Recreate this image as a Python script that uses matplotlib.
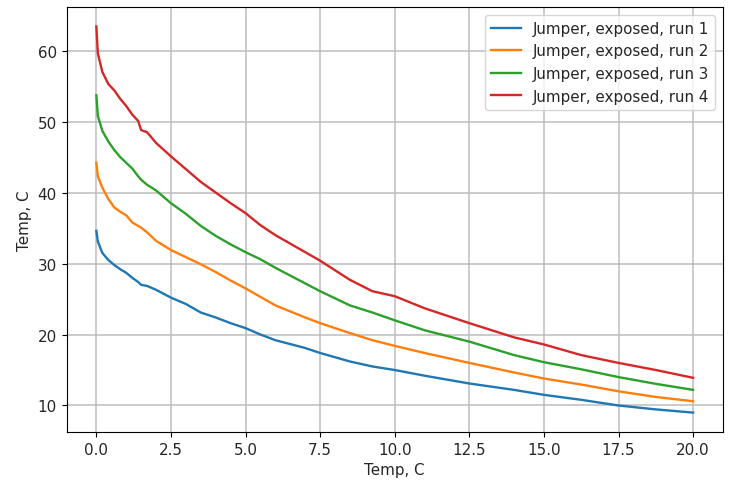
import matplotlib
matplotlib.use("Agg")
import matplotlib.pyplot as plt

# Sample positions shared by all runs
x = [0, 0.05, 0.2, 0.4, 0.6, 0.8, 1.0, 1.2, 1.4, 1.5, 1.7, 2.0, 2.5, 3.0,
     3.5, 4.0, 4.5, 5.0, 5.5, 6.0, 7.0, 7.5, 8.5, 9.25, 10.0, 11.0, 12.5,
     14.0, 15.0, 16.25, 17.5, 18.75, 20.0]

run1 = [34.6, 33.1, 31.5, 30.5, 29.8, 29.2, 28.7, 28.0, 27.4, 27.0, 26.85,
        26.3, 25.2, 24.3, 23.1, 22.4, 21.6, 20.9, 20.0, 19.2, 18.1, 17.4,
        16.2, 15.5, 15.0, 14.2, 13.1, 12.2, 11.5, 10.8, 10.0, 9.45, 9.0]

run2 = [44.2, 42.3, 40.7, 39.1, 37.9, 37.3, 36.8, 35.8, 35.3, 35.05, 34.4,
        33.2, 31.9, 30.9, 29.9, 28.8, 27.6, 26.5, 25.3, 24.1, 22.4, 21.6,
        20.2, 19.2, 18.4, 17.4, 16.0, 14.65, 13.8, 12.95, 12.0, 11.2, 10.6]

run3 = [53.7, 50.8, 48.7, 47.2, 46.0, 45.0, 44.2, 43.4, 42.3, 41.8, 41.1,
        40.3, 38.5, 37.0, 35.3, 33.9, 32.7, 31.6, 30.6, 29.4, 27.2, 26.1,
        24.1, 23.1, 22.0, 20.6, 19.0, 17.1, 16.1, 15.1, 14.0, 13.05, 12.2]

run4 = [63.4, 59.6, 57.0, 55.3, 54.4, 53.2, 52.2, 51.0, 50.1, 48.8, 48.5,
        47.0, 45.1, 43.3, 41.5, 40.0, 38.5, 37.1, 35.4, 34.0, 31.6, 30.4,
        27.7, 26.1, 25.4, 23.7, 21.6, 19.6, 18.6, 17.1, 16.0, 15.0, 13.9]

labels = ["Jumper, exposed, run 1", "Jumper, exposed, run 2",
          "Jumper, exposed, run 3", "Jumper, exposed, run 4"]

plt.rcParams["font.family"] = ["DejaVu Sans"]
plt.rcParams["font.size"] = 10.9
plt.rcParams["text.color"] = "#262626"
plt.rcParams["xtick.labelcolor"] = "#262626"
plt.rcParams["ytick.labelcolor"] = "#262626"
plt.rcParams["axes.labelcolor"] = "#262626"

fig = plt.figure(figsize=(7.31, 4.81), dpi=100)
ax = fig.add_axes([0.091, 0.1, 0.898, 0.883])

for series, label in zip([run1, run2, run3, run4], labels):
    ax.plot(x, series, linewidth=1.7, label=label)

ax.set_xticks([0, 2.5, 5, 7.5, 10, 12.5, 15, 17.5, 20])
ax.set_xticklabels(["0.0", "2.5", "5.0", "7.5", "10.0", "12.5", "15.0", "17.5", "20.0"])
ax.set_yticks([10, 20, 30, 40, 50, 60])
ax.grid(True, color="#bdbdbd", linewidth=1.1)
ax.set_xlabel("Temp, C")
ax.set_ylabel("Temp, C")
ax.legend(loc="upper right")

fig.savefig("out.png", dpi=100)
